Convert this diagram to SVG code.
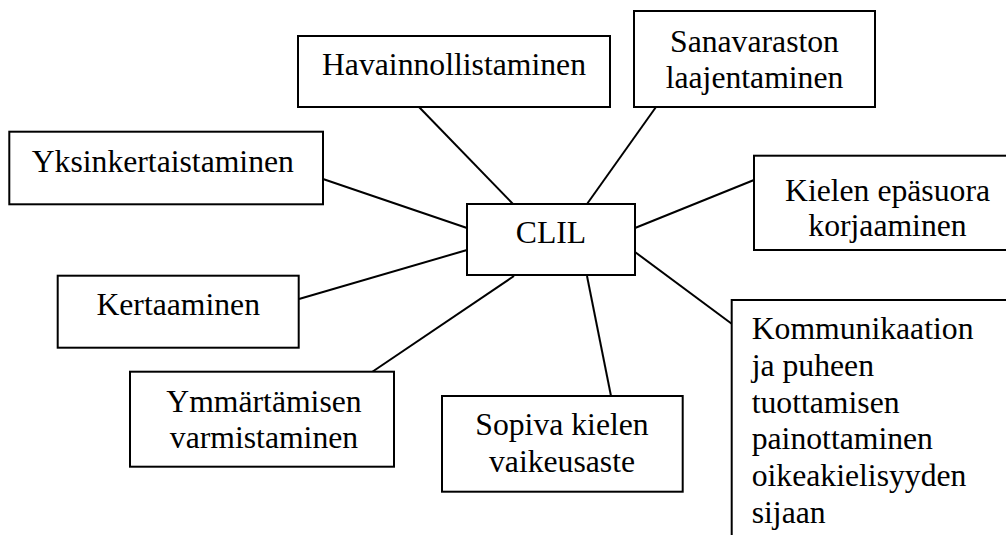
<svg xmlns="http://www.w3.org/2000/svg" width="1006" height="535" viewBox="0 0 1006 535">
<style>
.box{fill:#fff;stroke:#000;stroke-width:2}
.t{font-family:"Liberation Serif","Times New Roman",serif;font-size:31.7px;fill:#000}
.c{text-anchor:middle}
.edge{stroke:#000;stroke-width:2;fill:none}
</style>
<rect width="1006" height="535" fill="#fff"/>
<g id="connectors">
<line class="edge" x1="419" y1="107" x2="513" y2="204"/>
<line class="edge" x1="656" y1="107" x2="587" y2="204"/>
<line class="edge" x1="323" y1="179" x2="467" y2="228"/>
<line class="edge" x1="635" y1="228" x2="754" y2="180"/>
<line class="edge" x1="299" y1="299" x2="467" y2="250"/>
<line class="edge" x1="635" y1="252" x2="732" y2="324"/>
<line class="edge" x1="372" y1="372" x2="514" y2="276"/>
<line class="edge" x1="587" y1="276" x2="611" y2="396"/>
</g>
<g id="clil">
<rect class="box" x="467" y="204" width="168" height="71"/>
<text class="t c" x="551" y="243">CLIL</text>
</g>
<g id="havainnollistaminen">
<rect class="box" x="298" y="36" width="312" height="71"/>
<text class="t c" x="454" y="75">Havainnollistaminen</text>
</g>
<g id="sanavaraston">
<rect class="box" x="634" y="11" width="241" height="96"/>
<text class="t c" x="754.5" y="51.7">Sanavaraston</text>
<text class="t c" x="754.5" y="88.3">laajentaminen</text>
</g>
<g id="yksinkertaistaminen">
<rect class="box" x="9.3" y="131.7" width="313.7" height="72.6"/>
<text class="t" x="31.7" y="171.7">Yksinkertaistaminen</text>
</g>
<g id="kielen">
<rect class="box" x="754" y="155.7" width="270" height="94.3"/>
<text class="t c" x="887.5" y="201">Kielen epäsuora</text>
<text class="t c" x="887.5" y="236">korjaaminen</text>
</g>
<g id="kertaaminen">
<rect class="box" x="57.7" y="275.7" width="241" height="72"/>
<text class="t c" x="178.2" y="315">Kertaaminen</text>
</g>
<g id="kommunikaation">
<rect class="box" x="731.7" y="300" width="300" height="260"/>
<text class="t" x="751.7" y="339.3">Kommunikaation</text>
<text class="t" x="751.7" y="376">ja puheen</text>
<text class="t" x="751.7" y="412.7">tuottamisen</text>
<text class="t" x="751.7" y="449.3">painottaminen</text>
<text class="t" x="751.7" y="486">oikeakielisyyden</text>
<text class="t" x="751.7" y="522.7">sijaan</text>
</g>
<g id="ymmartamisen">
<rect class="box" x="130" y="371.7" width="264" height="95"/>
<text class="t c" x="264" y="411.7">Ymmärtämisen</text>
<text class="t c" x="264" y="448.3">varmistaminen</text>
</g>
<g id="sopiva">
<rect class="box" x="442" y="396" width="240.7" height="95.7"/>
<text class="t c" x="562" y="435">Sopiva kielen</text>
<text class="t c" x="562" y="472.3">vaikeusaste</text>
</g>
</svg>
